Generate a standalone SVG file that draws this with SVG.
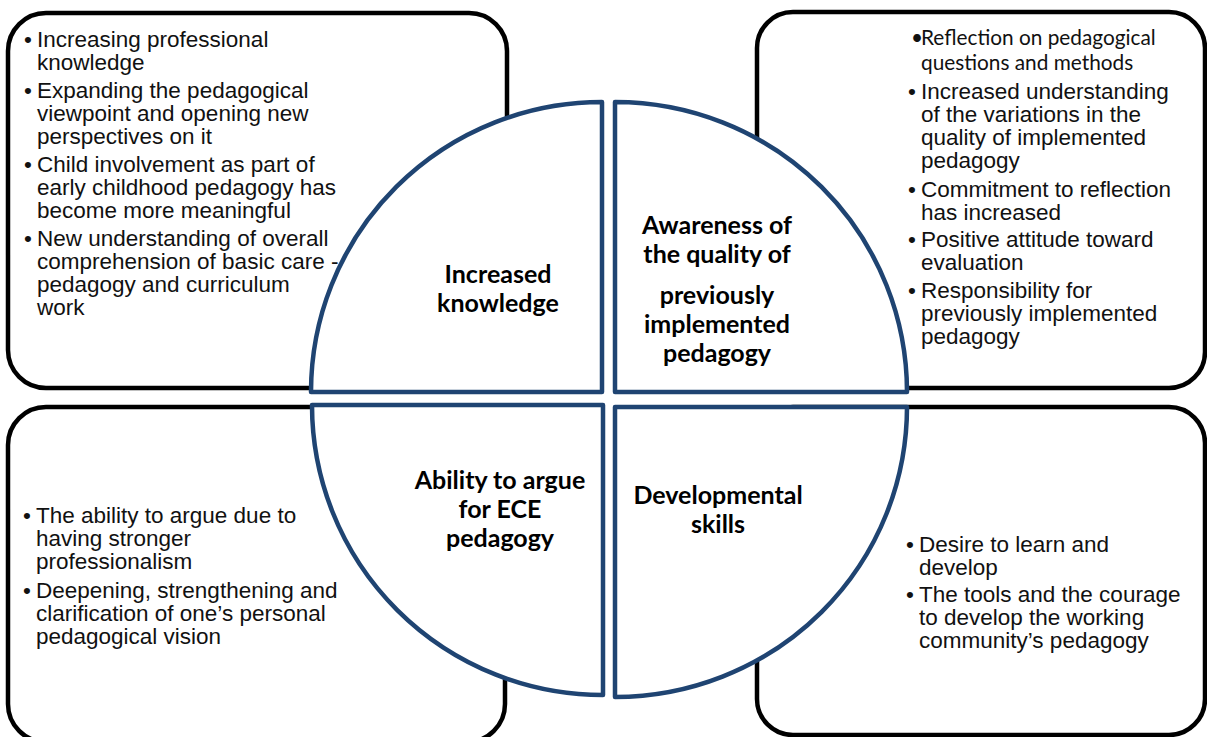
<svg xmlns="http://www.w3.org/2000/svg" width="1207" height="737" viewBox="0 0 1207 737">
<style>
.box{fill:#fff;stroke:#000;stroke-width:4.5}
.q{fill:#fff;stroke:#1F4472;stroke-width:4.5;stroke-linejoin:round}
.t{font-family:"Liberation Sans",Arial,sans-serif;font-size:22.5px;fill:#111}
.t2{font-family:Lato,"Open Sans",sans-serif;font-size:20.8px;fill:#111}
.lbl{font-family:Lato,"Open Sans",sans-serif;font-size:25px;font-weight:bold;fill:#000;text-anchor:middle}
</style>
<rect width="1207" height="737" fill="#fff"/>
<g id="box-tl">
<rect class="box" x="8" y="13" width="499" height="375" rx="38"/>
<text class="t"><tspan x="24" y="47">•</tspan><tspan x="37" y="47">Increasing professional</tspan><tspan x="37" y="70">knowledge</tspan><tspan x="24" y="98">•</tspan><tspan x="37" y="98">Expanding the pedagogical</tspan><tspan x="37" y="121">viewpoint and opening new</tspan><tspan x="37" y="144">perspectives on it</tspan><tspan x="24" y="172">•</tspan><tspan x="37" y="172">Child involvement as part of</tspan><tspan x="37" y="195">early childhood pedagogy has</tspan><tspan x="37" y="218">become more meaningful</tspan><tspan x="24" y="246">•</tspan><tspan x="37" y="246">New understanding of overall</tspan><tspan x="37" y="269">comprehension of basic care -</tspan><tspan x="37" y="292">pedagogy and curriculum</tspan><tspan x="37" y="315">work</tspan></text>
</g>
<g id="box-tr">
<rect class="box" x="757" y="12" width="448" height="376" rx="36"/>
<text class="t2"><tspan x="911" y="45">•</tspan><tspan x="921" y="45">Reflection on pedagogical</tspan><tspan x="921" y="70">questions and methods</tspan></text>
<text class="t"><tspan x="908" y="99">•</tspan><tspan x="921" y="99">Increased understanding</tspan><tspan x="921" y="122">of the variations in the</tspan><tspan x="921" y="145">quality of implemented</tspan><tspan x="921" y="168">pedagogy</tspan><tspan x="908" y="197">•</tspan><tspan x="921" y="197">Commitment to reflection</tspan><tspan x="921" y="220">has increased</tspan><tspan x="908" y="247">•</tspan><tspan x="921" y="247">Positive attitude toward</tspan><tspan x="921" y="270">evaluation</tspan><tspan x="908" y="298">•</tspan><tspan x="921" y="298">Responsibility for</tspan><tspan x="921" y="321">previously implemented</tspan><tspan x="921" y="344">pedagogy</tspan></text>
</g>
<g id="box-bl">
<rect class="box" x="8" y="407" width="497" height="335" rx="38"/>
<text class="t"><tspan x="23" y="523">•</tspan><tspan x="36" y="523">The ability to argue due to</tspan><tspan x="36" y="546">having stronger</tspan><tspan x="36" y="569">professionalism</tspan><tspan x="23" y="598">•</tspan><tspan x="36" y="598">Deepening, strengthening and</tspan><tspan x="36" y="621">clarification of one’s personal</tspan><tspan x="36" y="644">pedagogical vision</tspan></text>
</g>
<g id="box-br">
<rect class="box" x="757" y="407" width="448" height="328" rx="36"/>
<text class="t"><tspan x="906" y="552">•</tspan><tspan x="919" y="552">Desire to learn and</tspan><tspan x="919" y="575">develop</tspan><tspan x="906" y="602">•</tspan><tspan x="919" y="602">The tools and the courage</tspan><tspan x="919" y="625">to develop the working</tspan><tspan x="919" y="648">community’s pedagogy</tspan></text>
</g>
<g id="q-tl">
<path class="q" d="M311,392 A291,290 0 0 1 602,102 L602,392 Z"/>
<text class="lbl"><tspan x="498" y="283">Increased</tspan><tspan x="498" y="312">knowledge</tspan></text>
</g>
<g id="q-tr">
<path class="q" d="M615,102 A292,290 0 0 1 907,392 L615,392 Z"/>
<text class="lbl"><tspan x="717" y="234">Awareness of</tspan><tspan x="717" y="263">the quality of</tspan><tspan x="717" y="304">previously</tspan><tspan x="717" y="333">implemented</tspan><tspan x="717" y="362">pedagogy</tspan></text>
</g>
<g id="q-bl">
<path class="q" d="M312,405 L603,405 L603,695 A291,290 0 0 1 312,405 Z"/>
<text class="lbl"><tspan x="500" y="489">Ability to argue</tspan><tspan x="500" y="518">for ECE</tspan><tspan x="500" y="547">pedagogy</tspan></text>
</g>
<g id="q-br">
<path class="q" d="M615,407 L907,407 A292,290 0 0 1 615,697 Z"/>
<text class="lbl"><tspan x="718" y="504">Developmental</tspan><tspan x="718" y="533">skills</tspan></text>
</g>
<g id="connectors"/>
</svg>
